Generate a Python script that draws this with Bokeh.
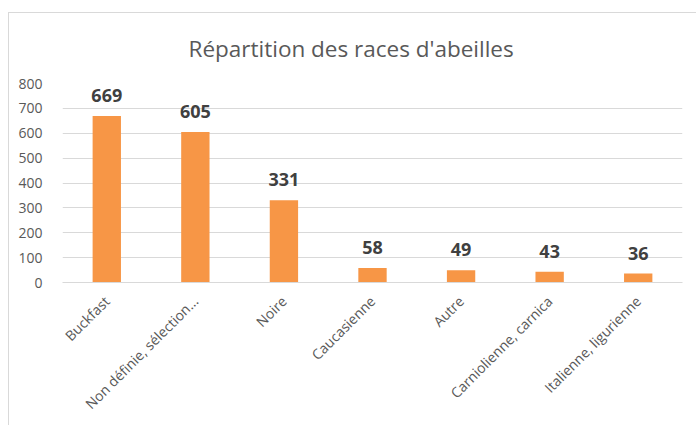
import math
from bokeh.plotting import figure
from bokeh.models import ColumnDataSource, LabelSet, SingleIntervalTicker
from bokeh.core.properties import value
from bokeh.embed import file_html
from bokeh.resources import INLINE

categories = ["Buckfast", "Non définie, sélection...", "Noire", "Caucasienne",
              "Autre", "Carniolienne, carnica", "Italienne, ligurienne"]
counts = [669, 605, 331, 58, 49, 43, 36]
labels = [str(v) for v in counts]
title_text = "Répartition des races d'abeilles"

src = ColumnDataSource(data=dict(cat=categories, val=counts, lab=labels))

p = figure(x_range=categories, y_range=(0, 800), width=688, height=413,
           output_backend="svg", toolbar_location=None,
           min_border_left=53, min_border_right=15, min_border_top=70,
           min_border_bottom=144)
p.margin = (12, 0, 0, 8)
p.styles = {"border-top": "1px solid #d9d9d9", "border-left": "1px solid #d9d9d9"}

p.vbar(x="cat", top="val", width=0.32, source=src, fill_color="#f79646",
       line_color=None)

p.add_layout(LabelSet(x="cat", y="val", text="lab", source=src, y_offset=14,
                      text_align="center", text_baseline="alphabetic",
                      text_font=value("Open Sans"), text_font_size="18px",
                      text_font_style="bold", text_color="#404040"))

p.title.text = title_text
p.title.align = "left"
p.title.offset = 126
p.title.vertical_align = "top"
p.title.standoff = 35
p.title.text_font = "Open Sans"
p.title.text_font_size = "22.5px"
p.title.text_font_style = "normal"
p.title.text_color = "#595959"

p.outline_line_color = None
p.xgrid.grid_line_color = None
p.ygrid.grid_line_color = "#d9d9d9"
p.ygrid.grid_line_width = 1

p.yaxis.ticker = SingleIntervalTicker(interval=100)
p.yaxis.axis_line_color = None
p.yaxis.major_tick_line_color = None
p.yaxis.minor_tick_line_color = None
p.yaxis.major_label_text_font = "Open Sans"
p.yaxis.major_label_text_font_size = "14px"
p.yaxis.major_label_text_color = "#595959"
p.yaxis.major_label_standoff = 14

p.xaxis.axis_line_color = "#d9d9d9"
p.xaxis.major_tick_line_color = None
p.xaxis.minor_tick_line_color = None
p.xaxis.major_label_orientation = math.pi / 4
p.xaxis.major_label_text_font = "Open Sans"
p.xaxis.major_label_text_font_size = "14px"
p.xaxis.major_label_text_color = "#595959"
p.xaxis.major_label_standoff = 10

p.x_range.range_padding = 0

open("out.html", "w").write(file_html(p, INLINE))
